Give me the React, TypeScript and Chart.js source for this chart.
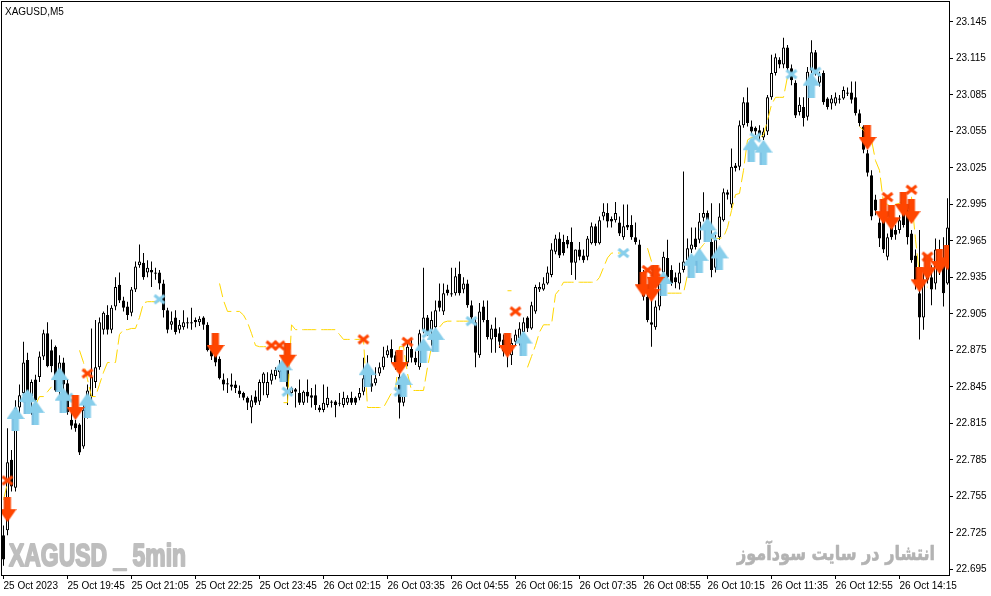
import React, { useEffect, useRef } from 'react';
import { Chart, registerables } from 'chart.js';

Chart.register(...registerables);

const W = 991;
const H = 596;

// ---- X axis (one slot per 5-minute bar, 237 bars) ----
const tickBars = [0, 16, 32, 48, 64, 80, 96, 112, 128, 144, 160, 176, 192, 208, 224];
const tickLabels = [
  '25 Oct 2023', '25 Oct 19:45', '25 Oct 21:05', '25 Oct 22:25', '25 Oct 23:45',
  '26 Oct 02:15', '26 Oct 03:35', '26 Oct 04:55', '26 Oct 06:15', '26 Oct 07:35',
  '26 Oct 08:55', '26 Oct 10:15', '26 Oct 11:35', '26 Oct 12:55', '26 Oct 14:15',
];
const yTicks = [22.695, 22.725, 22.755, 22.785, 22.815, 22.845, 22.875, 22.905, 22.935, 22.965, 22.995, 23.025, 23.055, 23.085, 23.115, 23.145];

// ---- OHLC ----
const opens = [
  22.723, 22.727, 22.785, 22.762, 22.828, 22.840, 22.867, 22.837, 22.851, 22.853,
  22.870, 22.889, 22.875, 22.878, 22.848, 22.865, 22.848, 22.818, 22.815, 22.814,
  22.796, 22.824, 22.837, 22.849, 22.861, 22.892, 22.904, 22.892, 22.911, 22.929,
  22.916, 22.911, 22.906, 22.925, 22.945, 22.947, 22.939, 22.941, 22.939, 22.939,
  22.930, 22.908, 22.896, 22.902, 22.892, 22.894, 22.898, 22.898, 22.900, 22.898,
  22.902, 22.896, 22.875, 22.871, 22.868, 22.851, 22.848, 22.847, 22.847, 22.842,
  22.840, 22.836, 22.828, 22.837, 22.833, 22.848, 22.838, 22.850, 22.854, 22.857,
  22.862, 22.861, 22.840, 22.843, 22.840, 22.832, 22.841, 22.838, 22.838, 22.828,
  22.826, 22.830, 22.833, 22.833, 22.832, 22.830, 22.832, 22.836, 22.836, 22.836,
  22.841, 22.851, 22.848, 22.848, 22.856, 22.861, 22.871, 22.876, 22.871, 22.853,
  22.832, 22.865, 22.876, 22.869, 22.861, 22.892, 22.902, 22.892, 22.894, 22.916,
  22.907, 22.925, 22.922, 22.922, 22.938, 22.925, 22.930, 22.912, 22.898, 22.871,
  22.911, 22.900, 22.884, 22.893, 22.889, 22.884, 22.879, 22.871, 22.882, 22.885,
  22.890, 22.902, 22.893, 22.907, 22.925, 22.925, 22.930, 22.937, 22.956, 22.967,
  22.964, 22.966, 22.964, 22.947, 22.958, 22.953, 22.952, 22.963, 22.977, 22.963,
  22.985, 22.988, 22.983, 22.982, 22.980, 22.968, 22.978, 22.978, 22.968, 22.962,
  22.935, 22.919, 22.898, 22.894, 22.911, 22.939, 22.951, 22.941, 22.935, 22.930,
  22.941, 22.949, 22.958, 22.967, 22.966, 22.984, 22.988, 22.964, 22.943, 22.968,
  22.982, 23.005, 22.995, 23.027, 23.026, 23.060, 23.079, 23.059, 23.058, 23.056,
  23.050, 23.055, 23.083, 23.103, 23.114, 23.110, 23.124, 23.107, 23.095, 23.071,
  23.075, 23.067, 23.105, 23.120, 23.095, 23.103, 23.082, 23.078, 23.078, 23.082,
  23.082, 23.087, 23.087, 23.083, 23.070, 23.059, 23.037, 23.019, 22.999, 22.980,
  22.985, 22.952, 22.976, 22.974, 22.974, 22.988, 22.990, 22.971, 22.953, 22.922,
  22.902, 22.933, 22.935, 22.930, 22.956, 22.949, 22.930,
];
const highs = [
  22.731, 22.811, 22.793, 22.834, 22.847, 22.882, 22.873, 22.851, 22.855, 22.874,
  22.892, 22.898, 22.884, 22.879, 22.871, 22.869, 22.851, 22.824, 22.818, 22.815,
  22.834, 22.847, 22.893, 22.900, 22.902, 22.907, 22.912, 22.912, 22.935, 22.939,
  22.919, 22.915, 22.927, 22.948, 22.962, 22.955, 22.949, 22.948, 22.943, 22.941,
  22.933, 22.910, 22.907, 22.908, 22.900, 22.908, 22.902, 22.910, 22.902, 22.903,
  22.903, 22.898, 22.879, 22.874, 22.870, 22.856, 22.852, 22.856, 22.850, 22.846,
  22.841, 22.837, 22.838, 22.842, 22.851, 22.857, 22.857, 22.859, 22.861, 22.867,
  22.869, 22.870, 22.845, 22.844, 22.851, 22.842, 22.851, 22.844, 22.847, 22.830,
  22.847, 22.845, 22.834, 22.834, 22.840, 22.841, 22.838, 22.841, 22.837, 22.844,
  22.869, 22.871, 22.859, 22.861, 22.865, 22.878, 22.879, 22.884, 22.874, 22.859,
  22.851, 22.882, 22.884, 22.874, 22.892, 22.943, 22.904, 22.907, 22.916, 22.930,
  22.930, 22.929, 22.943, 22.943, 22.948, 22.935, 22.933, 22.916, 22.902, 22.914,
  22.916, 22.916, 22.896, 22.902, 22.894, 22.888, 22.884, 22.885, 22.892, 22.898,
  22.902, 22.903, 22.915, 22.929, 22.931, 22.935, 22.944, 22.963, 22.970, 22.972,
  22.970, 22.969, 22.976, 22.958, 22.964, 22.958, 22.969, 22.980, 22.979, 22.985,
  22.996, 22.996, 22.985, 22.997, 22.985, 22.995, 22.995, 22.986, 22.980, 22.966,
  22.941, 22.922, 22.925, 22.916, 22.933, 22.956, 22.966, 22.945, 22.939, 22.947,
  23.022, 22.967, 22.976, 22.976, 22.988, 23.005, 22.990, 22.996, 22.970, 22.996,
  23.008, 23.007, 23.041, 23.029, 23.064, 23.083, 23.091, 23.064, 23.059, 23.060,
  23.058, 23.085, 23.118, 23.119, 23.116, 23.132, 23.126, 23.110, 23.097, 23.083,
  23.083, 23.108, 23.130, 23.122, 23.104, 23.105, 23.083, 23.085, 23.087, 23.085,
  23.092, 23.091, 23.096, 23.096, 23.073, 23.060, 23.040, 23.023, 23.003, 22.984,
  22.988, 22.971, 22.981, 22.978, 22.986, 22.992, 22.995, 22.974, 22.958, 22.974,
  22.941, 22.953, 22.945, 22.967, 22.966, 22.968, 23.000,
];
const lows = [
  22.698, 22.723, 22.759, 22.759, 22.822, 22.834, 22.826, 22.822, 22.830, 22.849,
  22.867, 22.861, 22.857, 22.841, 22.838, 22.838, 22.822, 22.810, 22.808, 22.789,
  22.794, 22.819, 22.834, 22.844, 22.859, 22.888, 22.888, 22.889, 22.908, 22.914,
  22.907, 22.900, 22.903, 22.923, 22.943, 22.933, 22.935, 22.927, 22.933, 22.925,
  22.902, 22.889, 22.892, 22.888, 22.889, 22.892, 22.893, 22.892, 22.894, 22.895,
  22.892, 22.874, 22.867, 22.862, 22.851, 22.842, 22.840, 22.842, 22.840, 22.836,
  22.834, 22.826, 22.815, 22.830, 22.830, 22.838, 22.836, 22.847, 22.851, 22.852,
  22.851, 22.830, 22.838, 22.828, 22.830, 22.830, 22.832, 22.828, 22.826, 22.824,
  22.824, 22.828, 22.828, 22.820, 22.829, 22.828, 22.830, 22.830, 22.830, 22.834,
  22.838, 22.847, 22.841, 22.846, 22.854, 22.859, 22.869, 22.865, 22.859, 22.819,
  22.829, 22.862, 22.865, 22.863, 22.859, 22.889, 22.887, 22.879, 22.892, 22.907,
  22.904, 22.920, 22.919, 22.920, 22.920, 22.922, 22.910, 22.900, 22.861, 22.869,
  22.898, 22.884, 22.873, 22.873, 22.877, 22.870, 22.861, 22.863, 22.879, 22.879,
  22.888, 22.890, 22.892, 22.905, 22.923, 22.924, 22.929, 22.935, 22.954, 22.951,
  22.953, 22.959, 22.937, 22.933, 22.949, 22.947, 22.949, 22.962, 22.961, 22.962,
  22.982, 22.976, 22.976, 22.980, 22.969, 22.966, 22.974, 22.966, 22.962, 22.925,
  22.916, 22.898, 22.878, 22.892, 22.908, 22.936, 22.932, 22.928, 22.926, 22.925,
  22.939, 22.947, 22.955, 22.958, 22.963, 22.981, 22.972, 22.935, 22.939, 22.966,
  22.981, 22.999, 22.992, 23.022, 23.023, 23.058, 23.059, 23.052, 23.052, 23.048,
  23.048, 23.052, 23.081, 23.101, 23.107, 23.107, 23.104, 23.093, 23.066, 23.068,
  23.059, 23.064, 23.103, 23.101, 23.092, 23.077, 23.073, 23.073, 23.076, 23.078,
  23.081, 23.084, 23.078, 23.068, 23.059, 23.037, 23.018, 22.982, 22.986, 22.960,
  22.955, 22.949, 22.966, 22.966, 22.971, 22.976, 22.962, 22.947, 22.925, 22.884,
  22.892, 22.930, 22.912, 22.925, 22.937, 22.911, 22.929,
];
const closes = [
  22.703, 22.783, 22.763, 22.828, 22.838, 22.865, 22.837, 22.849, 22.834, 22.870,
  22.889, 22.862, 22.862, 22.842, 22.865, 22.847, 22.824, 22.813, 22.811, 22.791,
  22.826, 22.842, 22.853, 22.861, 22.898, 22.906, 22.892, 22.910, 22.927, 22.916,
  22.910, 22.904, 22.925, 22.944, 22.948, 22.935, 22.943, 22.939, 22.938, 22.930,
  22.908, 22.892, 22.899, 22.890, 22.896, 22.898, 22.897, 22.897, 22.898, 22.901,
  22.896, 22.875, 22.870, 22.865, 22.852, 22.847, 22.847, 22.845, 22.844, 22.839,
  22.836, 22.832, 22.834, 22.832, 22.849, 22.856, 22.849, 22.856, 22.859, 22.862,
  22.857, 22.845, 22.844, 22.841, 22.832, 22.841, 22.837, 22.836, 22.830, 22.826,
  22.832, 22.836, 22.832, 22.830, 22.831, 22.836, 22.836, 22.832, 22.832, 22.840,
  22.852, 22.862, 22.845, 22.852, 22.861, 22.870, 22.875, 22.869, 22.865, 22.832,
  22.848, 22.878, 22.869, 22.865, 22.889, 22.902, 22.889, 22.900, 22.908, 22.910,
  22.922, 22.922, 22.921, 22.936, 22.922, 22.930, 22.912, 22.902, 22.873, 22.907,
  22.900, 22.886, 22.893, 22.886, 22.882, 22.874, 22.871, 22.881, 22.888, 22.893,
  22.898, 22.893, 22.912, 22.927, 22.927, 22.930, 22.939, 22.958, 22.967, 22.953,
  22.955, 22.962, 22.947, 22.958, 22.952, 22.949, 22.967, 22.977, 22.963, 22.982,
  22.989, 22.981, 22.981, 22.988, 22.971, 22.977, 22.976, 22.968, 22.964, 22.927,
  22.919, 22.900, 22.896, 22.911, 22.930, 22.952, 22.935, 22.930, 22.931, 22.939,
  22.948, 22.959, 22.962, 22.960, 22.981, 22.988, 22.982, 22.941, 22.966, 22.985,
  23.005, 23.003, 23.026, 23.025, 23.060, 23.079, 23.062, 23.055, 23.055, 23.052,
  23.055, 23.083, 23.103, 23.116, 23.110, 23.124, 23.107, 23.097, 23.068, 23.077,
  23.066, 23.104, 23.120, 23.103, 23.101, 23.079, 23.075, 23.082, 23.083, 23.081,
  23.089, 23.086, 23.081, 23.070, 23.062, 23.040, 23.021, 22.985, 22.990, 22.967,
  22.958, 22.968, 22.968, 22.970, 22.982, 22.978, 22.968, 22.949, 22.930, 22.902,
  22.933, 22.947, 22.925, 22.958, 22.941, 22.922, 22.976,
];

// ---- trailing stop (yellow dashed), null where not drawn ----
const trailStop = [
  22.752, 22.766, null, null, null, null, null, null, 22.830, 22.837,
  22.837, 22.841, 22.845, null, null, null, null, null, null, 22.875,
  22.865, 22.851, 22.837, 22.837, 22.847, 22.857, 22.865, 22.865, 22.865, 22.888,
  22.892, 22.892, 22.893, 22.893, 22.902, 22.914, 22.915, 22.915, 22.915, 22.915,
  null, null, null, null, null, null, null, null, null, null,
  null, null, null, null, 22.930, 22.916, 22.907, 22.907, 22.907, 22.907,
  22.904, 22.898, 22.889, 22.879, 22.878, 22.878, 22.878, 22.878, null, null,
  22.832, 22.832, 22.896, 22.892, 22.892, 22.892, 22.892, 22.892, 22.892, 22.892,
  22.892, 22.892, 22.892, 22.892, 22.888, 22.884, 22.884, 22.884, 22.884, 22.884,
  22.884, 22.828, 22.828, 22.828, 22.828, 22.828, 22.834, 22.840, 22.842, 22.878,
  22.878, 22.856, 22.842, 22.842, 22.842, 22.842, 22.861, 22.878, 22.888, 22.894,
  22.898, 22.899, 22.899, 22.899, 22.899, 22.899, 22.899, 22.899, null, null,
  null, null, null, null, null, null, 22.924, 22.924, null, null,
  null, 22.861, 22.870, 22.879, 22.890, 22.896, 22.896, 22.896, 22.921, 22.925,
  22.931, 22.931, 22.931, 22.931, 22.931, 22.931, 22.931, 22.931, 22.931, 22.935,
  22.943, 22.951, 22.955, 22.955, 22.955, 22.955, null, null, null, null,
  null, 22.959, 22.948, null, null, null, 22.922, 22.922, 22.922, 22.922,
  22.922, 22.937, 22.947, 22.952, 22.958, 22.962, 22.966, 22.967, 22.967, 22.967,
  22.968, 22.976, 22.990, 23.003, 23.004, 23.023, 23.048, 23.050, 23.050, 23.050,
  23.052, 23.064, 23.077, 23.083, 23.083, 23.083, 23.100, null, null, null,
  null, null, null, null, null, null, null, null, null, null,
  null, null, null, null, 23.059, 23.056, 23.052, 23.048, 23.031, 23.023,
  22.996, 22.995, 22.993, 22.995, 22.996, 22.999, 23.001, 23.001, 22.966, 22.937,
  22.927, 22.927, null, null, null, null, null,
];

// ---- signals ----
const buyArrowBars = [3, 6, 8, 14, 15, 21, 70, 91, 100, 105, 108, 130, 165, 172, 174, 176, 179, 187, 190, 202];
const buyArrowPrices = [22.819, 22.833, 22.824, 22.851, 22.834, 22.830, 22.859, 22.855, 22.847, 22.875, 22.884, 22.881, 22.930, 22.945, 22.949, 22.974, 22.951, 23.040, 23.038, 23.093];
const sellArrowBars = [1, 18, 53, 71, 99, 126, 160, 162, 163, 216, 220, 222, 225, 227, 229, 231, 234, 236];
const sellArrowPrices = [22.744, 22.828, 22.879, 22.871, 22.865, 22.879, 22.929, 22.925, 22.935, 23.050, 22.989, 22.984, 22.995, 22.989, 22.933, 22.943, 22.948, 22.951];
const buyExitBars = [6, 16, 39, 71, 99, 106, 117, 155, 177, 188, 197, 203];
const buyExitPrices = [22.836, 22.836, 22.917, 22.841, 22.841, 22.889, 22.899, 22.955, 22.969, 23.050, 23.102, 23.104];
const sellExitBars = [1, 21, 67, 69, 90, 101, 128, 161, 163, 221, 227, 231];
const sellExitPrices = [22.768, 22.856, 22.879, 22.879, 22.884, 22.882, 22.907, 22.941, 22.939, 23.001, 23.007, 22.952];

const SYMBOL_LABEL = 'XAGUSD,M5';
const WATERMARK_LEFT = 'XAGUSD _ 5min';
const WATERMARK_RIGHT = 'انتشار در سایت سودآموز';

const AXIS_FONT = { family: '"Liberation Sans", Arial, sans-serif', size: 10 };

// Thick arrow: triangular head + wide shaft (like a Wingdings arrow glyph)
function makeArrow(color: string, edge: string, up: boolean): HTMLCanvasElement {
  const c = document.createElement('canvas');
  c.width = 18;
  c.height = 25;
  const g = c.getContext('2d') as CanvasRenderingContext2D;
  const pts = [[9, 0], [18, 13], [12.5, 13], [12.5, 25], [5.5, 25], [5.5, 13], [0, 13]];
  const fy = (py: number) => (up ? py : 25 - py);
  g.beginPath();
  pts.forEach(([px, py], i) => {
    if (i === 0) g.moveTo(px, fy(py));
    else g.lineTo(px, fy(py));
  });
  g.closePath();
  g.fillStyle = color;
  g.fill();
  // darker left edge of the shaft, as in the glyph rendering
  g.fillStyle = edge;
  g.fillRect(5.5, up ? 13 : 0, 1, 12);
  return c;
}

function makeCross(color: string): HTMLCanvasElement {
  const c = document.createElement('canvas');
  c.width = 14;
  c.height = 12;
  const g = c.getContext('2d') as CanvasRenderingContext2D;
  g.strokeStyle = color;
  g.lineWidth = 3;
  g.beginPath();
  g.moveTo(2, 2);
  g.lineTo(12, 10);
  g.moveTo(12, 2);
  g.lineTo(2, 10);
  g.stroke();
  return c;
}

function drawScaledText(ctx: CanvasRenderingContext2D, text: string, font: string, color: string, x: number, baseline: number, width: number, rtl: boolean, stroke: number) {
  ctx.save();
  ctx.font = font;
  if (rtl) (ctx as any).direction = 'rtl';
  ctx.textAlign = 'left';
  ctx.textBaseline = 'alphabetic';
  const w = ctx.measureText(text).width || 1;
  ctx.translate(x, baseline);
  ctx.scale(width / w, 1);
  ctx.fillStyle = color;
  ctx.fillText(text, 0, 0);
  if (stroke > 0) {
    ctx.strokeStyle = color;
    ctx.lineWidth = stroke;
    ctx.lineJoin = 'round';
    ctx.strokeText(text, 0, 0);
  }
  ctx.restore();
}

const overlayPlugin = {
  id: 'mtOverlay',
  beforeDatasetsDraw(chart: any) {
    const ctx = chart.ctx as CanvasRenderingContext2D;
    drawScaledText(ctx, WATERMARK_LEFT, 'bold 32px "Liberation Sans Narrow", "Liberation Sans", sans-serif', '#BEBEBE', 9, 566, 177, false, 2);
    drawScaledText(ctx, WATERMARK_RIGHT, 'bold 20px "DejaVu Sans", sans-serif', '#B3B3B3', 737, 560, 198, true, 0.6);
  },
  afterDraw(chart: any) {
    const ctx = chart.ctx as CanvasRenderingContext2D;
    const a = chart.chartArea;
    ctx.save();
    ctx.strokeStyle = '#000';
    ctx.lineWidth = 1;
    ctx.strokeRect(a.left + 0.5, a.top + 0.5, a.right - a.left, a.bottom - a.top);
    ctx.fillStyle = '#000';
    ctx.font = '10px "Liberation Sans", Arial, sans-serif';
    ctx.textBaseline = 'alphabetic';
    ctx.textAlign = 'left';
    ctx.fillText(SYMBOL_LABEL, 5, 15);
    ctx.restore();
  },
};

export default function App() {
  const ref = useRef<HTMLCanvasElement>(null);

  useEffect(() => {
    document.body.style.margin = '0';
    const canvas = ref.current as HTMLCanvasElement;
    const upImg = makeArrow('#87CEEB', '#5FA8D3', true);
    const downImg = makeArrow('#FF4500', '#E03A00', false);
    const blueX = makeCross('#87CEEB');
    const redX = makeCross('#FF4500');

    const idx = opens.map((_, i) => i);
    const wickData = idx.map((i) => ({ x: i, y: [lows[i], highs[i]] }));
    const bodyData = idx.map((i) => ({ x: i, y: [opens[i], closes[i]] }));
    const bodyColors = idx.map((i) => (closes[i] >= opens[i] ? '#FFFFFF' : '#000000'));
    const stopData = idx.map((i) => ({ x: i, y: trailStop[i] }));
    const pts = (bars: number[], prices: number[]) => bars.map((b, k) => ({ x: b, y: prices[k] }));

    const marker = (label: string, data: any[], img: HTMLCanvasElement, order: number) => ({
      type: 'scatter',
      label,
      data,
      pointStyle: img,
      pointRadius: 6,
      pointHoverRadius: 6,
      order,
    });

    const chart = new Chart(canvas, {
      type: 'bar',
      data: {
        datasets: [
          {
            type: 'bar',
            label: 'wick',
            data: wickData,
            backgroundColor: '#000000',
            borderWidth: 0,
            barThickness: 1,
            maxBarThickness: 1,
            grouped: false,
            inflateAmount: 0,
            order: 6,
          },
          {
            type: 'bar',
            label: 'body',
            data: bodyData,
            backgroundColor: bodyColors,
            borderColor: '#000000',
            borderWidth: 1,
            borderSkipped: false,
            barThickness: 3,
            maxBarThickness: 3,
            minBarLength: 1,
            grouped: false,
            inflateAmount: 0,
            order: 5,
          },
          {
            type: 'line',
            label: 'stop',
            data: stopData,
            borderColor: '#FFD700',
            borderWidth: 1,
            borderDash: [14, 5],
            pointRadius: 0,
            spanGaps: false,
            tension: 0,
            fill: false,
            order: 4,
          },
          marker('buyExit', pts(buyExitBars, buyExitPrices), blueX, 3),
          marker('sellExit', pts(sellExitBars, sellExitPrices), redX, 3),
          marker('buy', pts(buyArrowBars, buyArrowPrices), upImg, 2),
          marker('sell', pts(sellArrowBars, sellArrowPrices), downImg, 1),
        ] as any,
      },
      options: {
        responsive: false,
        animation: false,
        devicePixelRatio: 1,
        events: [],
        layout: { autoPadding: false, padding: { left: 1, top: 1, right: 0, bottom: 0 } },
        plugins: { legend: { display: false }, tooltip: { enabled: false } },
        scales: {
          x: {
            type: 'linear',
            min: -0.625,
            max: 236.375,
            offset: false,
            afterBuildTicks: (axis: any) => {
              axis.ticks = tickBars.map((v) => ({ value: v }));
            },
            afterFit: (axis: any) => {
              axis.height = 21;
              axis.paddingLeft = 0;
              axis.paddingRight = 0;
            },
            ticks: {
              autoSkip: false,
              maxRotation: 0,
              minRotation: 0,
              align: 'start',
              color: '#000',
              font: AXIS_FONT,
              padding: 1,
              callback: (v: any) => {
                const k = tickBars.indexOf(Number(v));
                return k >= 0 ? tickLabels[k] : '';
              },
            },
            grid: { drawOnChartArea: false, drawTicks: true, tickLength: 4, color: '#000', offset: false },
            border: { display: false },
          },
          y: {
            position: 'right',
            min: 22.6903,
            max: 23.1622,
            afterBuildTicks: (axis: any) => {
              axis.ticks = yTicks.map((v) => ({ value: v }));
            },
            afterFit: (axis: any) => {
              axis.width = 42;
              axis.paddingTop = 0;
              axis.paddingBottom = 0;
            },
            ticks: {
              color: '#000',
              font: AXIS_FONT,
              padding: 3,
              callback: (v: any) => Number(v).toFixed(3),
            },
            grid: { drawOnChartArea: false, drawTicks: true, tickLength: 4, color: '#000' },
            border: { display: false },
          },
        },
      } as any,
      plugins: [overlayPlugin],
    } as any);

    return () => chart.destroy();
  }, []);

  return (
    <div style={{ position: 'relative', width: W, height: H, background: '#FFFFFF' }}>
      <canvas ref={ref} width={W} height={H} style={{ display: 'block', width: W, height: H }} />
    </div>
  );
}
